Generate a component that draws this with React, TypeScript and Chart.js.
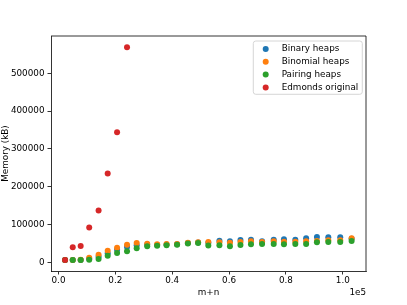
import React, { useEffect, useRef } from "react";
import { Chart, registerables } from "chart.js";

Chart.register(...registerables);

const seriesLabels = ["Binary heaps", "Binomial heaps", "Pairing heaps", "Edmonds original"];
const seriesColors = ["#1f77b4", "#ff7f0e", "#2ca02c", "#d62728"];

const sizes = [2300, 5000, 7800, 10800, 14100, 17300, 20600, 24100, 27500, 31200, 34700, 38000, 41700, 45500, 49100, 52700, 56600, 60300, 64000, 67700, 71600, 75700, 79300, 83300, 87100, 90900, 94900, 99100, 103100];

const binaryMem = [6000, 6000, 6000, 9500, 15000, 24000, 33000, 40500, 45000, 47000, 46000, 47000, 47500, 51000, 52500, 52000, 57200, 55500, 59000, 59800, 55500, 59800, 60800, 59800, 63500, 66900, 66100, 66100, 62000];
const binomialMem = [6000, 6000, 6500, 12200, 20100, 30700, 38600, 46600, 51000, 49200, 47600, 48400, 48400, 51900, 53000, 53700, 52900, 51900, 53700, 55500, 53700, 55500, 54500, 54500, 55600, 56300, 58200, 58200, 63500];
const pairingMem = [6000, 6000, 6000, 7000, 8700, 17500, 24600, 29000, 37000, 42300, 43900, 45000, 46600, 49500, 51000, 44500, 45000, 42500, 45500, 47600, 48400, 48400, 48000, 48400, 48400, 52900, 53700, 53700, 56500];
const edmondsMem = [6000, 40000, 43000, 92000, 137000, 235000, 344000, 569000];

const xTicks = [0, 20000, 40000, 60000, 80000, 100000];
const yTicks = [0, 100000, 200000, 300000, 400000, 500000];

const FONT = "DejaVu Sans";
const FS = 8.8;

const framePlugin = {
  id: "frameAndLegend",
  afterDraw(chart: any) {
    const { ctx, chartArea } = chart;
    ctx.save();
    ctx.strokeStyle = "#000";
    ctx.lineWidth = 0.8;
    ctx.beginPath();
    ctx.moveTo(chartArea.left, chartArea.top);
    ctx.lineTo(chartArea.right, chartArea.top);
    ctx.lineTo(chartArea.right, chartArea.bottom);
    ctx.stroke();

    ctx.fillStyle = "#000";
    ctx.font = `${FS}px "${FONT}"`;
    ctx.textAlign = "right";
    ctx.textBaseline = "middle";
    ctx.fillText("1e5", chartArea.right, 292.3);

    const lx = 253.3, ly = 41, lw = 109, lh = 53.3, r = 2.5;
    ctx.beginPath();
    ctx.moveTo(lx + r, ly);
    ctx.lineTo(lx + lw - r, ly);
    ctx.arcTo(lx + lw, ly, lx + lw, ly + r, r);
    ctx.lineTo(lx + lw, ly + lh - r);
    ctx.arcTo(lx + lw, ly + lh, lx + lw - r, ly + lh, r);
    ctx.lineTo(lx + r, ly + lh);
    ctx.arcTo(lx, ly + lh, lx, ly + lh - r, r);
    ctx.lineTo(lx, ly + r);
    ctx.arcTo(lx, ly, lx + r, ly, r);
    ctx.closePath();
    ctx.fillStyle = "rgba(255,255,255,0.8)";
    ctx.fill();
    ctx.strokeStyle = "#cccccc";
    ctx.lineWidth = 0.8;
    ctx.stroke();

    chart.data.datasets.forEach((ds: any, i: number) => {
      const y = 49 + i * 12.8;
      ctx.beginPath();
      ctx.arc(265.7, y, 3, 0, Math.PI * 2);
      ctx.fillStyle = ds.backgroundColor;
      ctx.fill();
      ctx.fillStyle = "#000";
      ctx.textAlign = "left";
      ctx.textBaseline = "middle";
      ctx.fillText(ds.label, 281.7, y);
    });
    ctx.restore();
  },
};

export default function App() {
  const ref = useRef<HTMLCanvasElement>(null);

  useEffect(() => {
    if (!ref.current) return;
    const mk = (ys: number[]) => ys.map((y, i) => ({ x: sizes[i], y }));
    const series = [binaryMem, binomialMem, pairingMem, edmondsMem];
    const chart = new Chart(ref.current, {
      type: "scatter",
      data: {
        datasets: series.map((ys, i) => ({
          label: seriesLabels[i],
          data: mk(ys),
          backgroundColor: seriesColors[i],
          order: series.length - 1 - i,
          pointRadius: 3,
          pointBorderWidth: 0,
          borderWidth: 0,
          pointHoverRadius: 3,
        })),
      },
      options: {
        animation: false,
        responsive: false,
        devicePixelRatio: 1,
        layout: { padding: { left: 0, top: 36, right: 41, bottom: 0 } },
        plugins: { legend: { display: false }, tooltip: { enabled: false } },
        font: { family: FONT, size: FS },
        scales: {
          x: {
            type: "linear",
            min: -2640,
            max: 108160,
            afterBuildTicks: (s: any) => { s.ticks = xTicks.map((v) => ({ value: v })); },
            afterFit: (s: any) => { s.height = 34; },
            ticks: {
              color: "#000",
              font: { family: FONT, size: FS },
              padding: 1,
              autoSkip: false,
              maxRotation: 0,
              callback: (v: any) => (Number(v) / 1e5).toFixed(1),
            },
            grid: { display: true, drawOnChartArea: false, drawTicks: true, tickLength: 3.5, color: "#000", lineWidth: 0.8 },
            border: { display: true, color: "#000", width: 0.8 },
            title: { display: true, text: "m+n", color: "#000", font: { family: FONT, size: FS }, padding: { top: 0, bottom: 6.7 } },
          },
          y: {
            type: "linear",
            min: -23000,
            max: 598700,
            afterBuildTicks: (s: any) => { s.ticks = yTicks.map((v) => ({ value: v })); },
            afterFit: (s: any) => { s.width = 51; },
            ticks: {
              color: "#000",
              font: { family: FONT, size: FS },
              padding: 3,
              autoSkip: false,
              callback: (v: any) => String(v),
            },
            grid: { display: true, drawOnChartArea: false, drawTicks: true, tickLength: 3.5, color: "#000", lineWidth: 0.8 },
            border: { display: true, color: "#000", width: 0.8 },
            title: { display: true, text: "Memory (kB)", color: "#000", font: { family: FONT, size: FS }, padding: { top: 0, bottom: 0 } },
          },
        },
      },
      plugins: [framePlugin],
    } as any);
    return () => chart.destroy();
  }, []);

  return (
    <div style={{ position: "fixed", left: 0, top: 0, width: 407, height: 305, background: "#fff" }}>
      <canvas ref={ref} width={407} height={305} style={{ display: "block" }} />
    </div>
  );
}
